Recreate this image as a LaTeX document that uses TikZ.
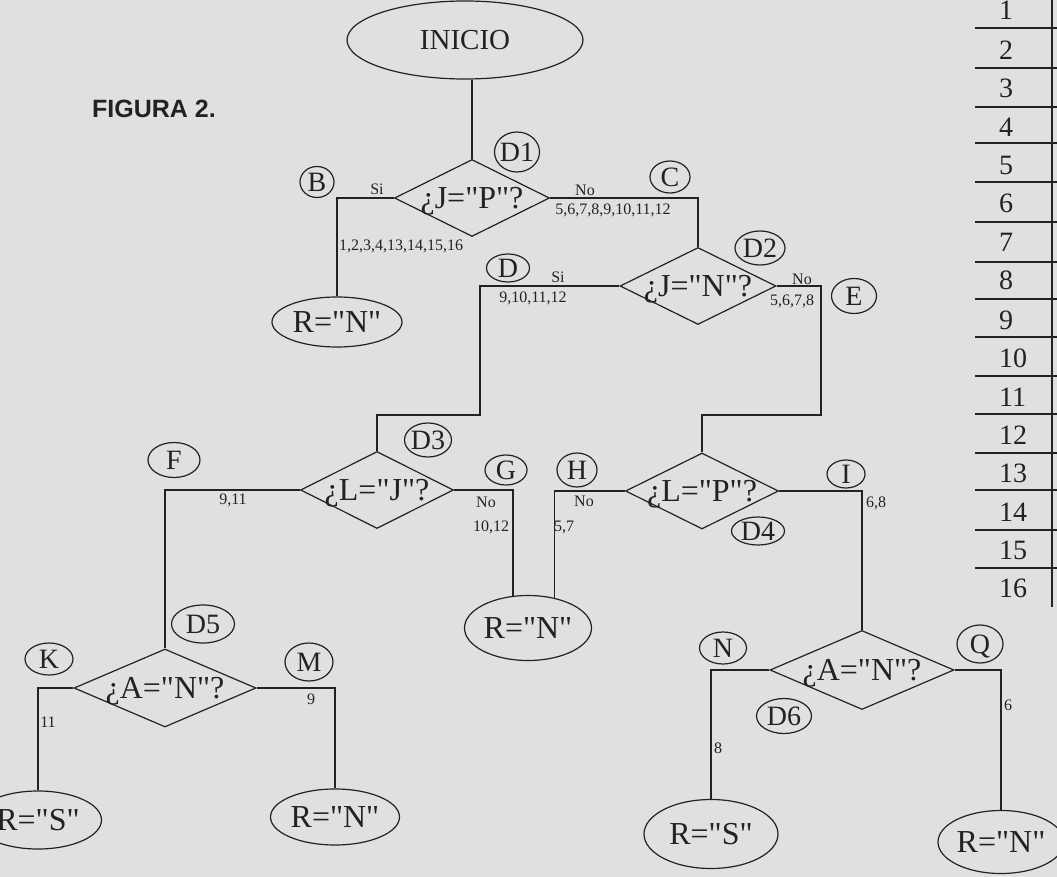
\documentclass[tikz,border=0pt]{standalone}
\usepackage{fontspec}
\setmainfont{Liberation Serif}[Ligatures=TeXOff]
\newfontfamily\figfont{Liberation Sans}
\usetikzlibrary{shapes.geometric,calc}
\definecolor{paper}{RGB}{224,224,222}
\definecolor{ink}{RGB}{34,34,34}
\newcommand{\zt}[1]{\smash{\makebox[0pt]{\raisebox{-0.34em}{#1}}}}
\begin{document}
\begin{tikzpicture}[x=1pt,y=-1pt,
  every node/.style={text=ink},
  lw/.style={draw=ink, line width=1.2pt},
  dia/.style={diamond, lw, inner sep=0pt, font=\fontsize{32}{32}\selectfont},
  ell/.style={ellipse, lw, inner sep=0pt, font=\fontsize{32}{32}\selectfont},
  tag/.style={ellipse, lw, inner sep=0pt, font=\fontsize{28}{28}\selectfont},
  lab/.style={font=\fontsize{16}{16}\selectfont, inner sep=0pt},
  conn/.style={draw=ink, line width=1.2pt},
  num/.style={anchor=west, inner sep=0pt, font=\fontsize{28}{28}\selectfont},
]
\fill[paper] (0,0) rectangle (1057,877);
\useasboundingbox (0,0) rectangle (1057,877);

% title
\node[anchor=west, inner sep=0pt, font=\figfont\bfseries\fontsize{25}{25}\selectfont] (fig) at (92,109) {FIGURA 2.};

% start
\node[ell, minimum width=236pt, minimum height=78pt, font=\fontsize{29}{29}\selectfont] (ini) at (465,40) {\zt{INICIO}};

% decisions
\node[dia, minimum width=155pt, minimum height=77pt] (d1) at (472,198) {\zt{¿J="P"?}};
\node[dia, minimum width=156pt, minimum height=77pt] (d2) at (698,286) {\zt{¿J="N"?}};
\node[dia, minimum width=153pt, minimum height=77pt] (d3) at (377,490) {\zt{¿L="J"?}};
\node[dia, minimum width=153pt, minimum height=76pt] (d4) at (702,491) {\zt{¿L="P"?}};
\node[dia, minimum width=182pt, minimum height=78pt] (d5) at (165,688) {\zt{¿A="N"?}};
\node[dia, minimum width=184pt, minimum height=79pt] (d6) at (862,670) {\zt{¿A="N"?}};

% results
\node[ell, minimum width=130pt, minimum height=50pt] (rn1) at (337,322) {\zt{R="N"}};
\node[ell, minimum width=127pt, minimum height=65pt] (rn2) at (528,628) {\zt{R="N"}};
\node[ell, minimum width=127pt, minimum height=58pt] (rs1) at (38,820) {\zt{R="S"}};
\node[ell, minimum width=129pt, minimum height=56pt] (rn3) at (335,817) {\zt{R="N"}};
\node[ell, minimum width=134pt, minimum height=69pt] (rs2) at (711,834) {\zt{R="S"}};
\node[ell, minimum width=126pt, minimum height=63pt] (rn4) at (1001,842) {\zt{R="N"}};

% tags
\node[tag, minimum width=45pt, minimum height=40pt] (tD1) at (517,152) {\zt{D1}};
\node[tag, minimum width=34pt, minimum height=31pt] (tB) at (317,182) {\zt{B}};
\node[tag, minimum width=40pt, minimum height=32pt] (tC) at (670,177) {\zt{C}};
\node[tag, minimum width=43pt, minimum height=28pt] (tD) at (508,268) {\zt{D}};
\node[tag, minimum width=50pt, minimum height=34pt] (tD2) at (760,248) {\zt{D2}};
\node[tag, minimum width=45pt, minimum height=35pt] (tE) at (854,296) {\zt{E}};
\node[tag, minimum width=52pt, minimum height=35pt] (tF) at (174,460) {\zt{F}};
\node[tag, minimum width=47pt, minimum height=34pt] (tD3) at (428,440) {\zt{D3}};
\node[tag, minimum width=42pt, minimum height=30pt] (tG) at (506,470) {\zt{G}};
\node[tag, minimum width=40pt, minimum height=34pt] (tH) at (577,470) {\zt{H}};
\node[tag, minimum width=38pt, minimum height=28pt] (tI) at (846,474) {\zt{I}};
\node[tag, minimum width=53pt, minimum height=28pt] (tD4) at (758,531) {\zt{D4}};
\node[tag, minimum width=63pt, minimum height=38pt] (tD5) at (203,624) {\zt{D5}};
\node[tag, minimum width=48pt, minimum height=32pt] (tK) at (49,659) {\zt{K}};
\node[tag, minimum width=48pt, minimum height=38pt] (tM) at (309,662) {\zt{M}};
\node[tag, minimum width=47pt, minimum height=32pt] (tN) at (723,648) {\zt{N}};
\node[tag, minimum width=55pt, minimum height=35pt] (tD6) at (784,716) {\zt{D6}};
\node[tag, minimum width=46pt, minimum height=38pt] (tQ) at (980,644) {\zt{Q}};

% connectors
\coordinate (j1) at (480,415);
\coordinate (j2) at (821,415);
\draw[conn] (d1.north) -- (d1.north |- ini.south);
\draw[conn] (d1.west) -| (rn1.north);
\draw[conn] (d1.east) -| (d2.north);
\draw[conn] (d2.west) -| (j1) -| (d3.north);
\draw[conn] (d2.east) -| (j2) -| (d4.north);
\draw[conn] (d3.west) -| (d5.north);
\draw[conn] (d3.east) -| (rn2.115);
\draw[conn] (d4.west) -| (rn2.49);
\draw[conn] (d4.east) -| (d6.north);
\draw[conn] (d5.west) -| (rs1.north);
\draw[conn] (d5.east) -| (rn3.north);
\draw[conn] (d6.west) -| (rs2.north);
\draw[conn] (d6.east) -| (rn4.north);

% branch labels
\node[lab] (l1) at (377,189) {Si};
\node[lab] (l2) at (401,246) {1,2,3,4,13,14,15,16};
\node[lab] (l3) at (585,190) {No};
\node[lab] (l4) at (613,210) {5,6,7,8,9,10,11,12};
\node[lab] (l5) at (558,277) {Si};
\node[lab] (l6) at (533,298) {9,10,11,12};
\node[lab] (l7) at (802,279) {No};
\node[lab] (l8) at (792,301) {5,6,7,8};
\node[lab] (l9) at (233,500) {9,11};
\node[lab] (l10) at (486,502) {No};
\node[lab] (l11) at (491,527) {10,12};
\node[lab] (l12) at (584,501) {No};
\node[lab] (l13) at (564,527) {5,7};
\node[lab] (l14) at (876,503) {6,8};
\node[lab] (l15) at (48,722) {11};
\node[lab] (l16) at (311,699) {9};
\node[lab] (l17) at (718,748) {8};
\node[lab] (l18) at (1008,705) {6};

% numbered list
\foreach \i/\yy in {1/10,2/50,3/88,4/127,5/165,6/203,7/242,8/280,9/320,10/358,11/397,12/435,13/473,14/512,15/550,16/588}
  \node[num] (n\i) at (999,\yy) {\i};
\foreach \yy in {28,68,107,143,182,222,262,299,337,376,414,453,490,530,568}
  \draw[conn] (975,\yy) -- (1057,\yy);
\draw[conn] (1052,0) -- (1052,607);
\end{tikzpicture}
\end{document}
